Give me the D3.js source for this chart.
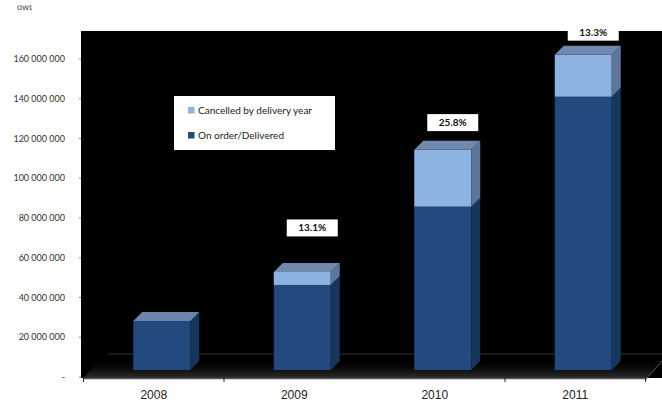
<!DOCTYPE html>
<html><head><meta charset="utf-8">
<script src="https://cdn.jsdelivr.net/npm/d3@7"></script>
<style>body{margin:0;background:#fff}svg{display:block}</style>
</head><body>
<script>
const years = ["2008","2009","2010","2011"];
const onOrder = [24.7e6, 42.8e6, 82.2e6, 137.5e6];
const cancelled = [0, 6.5e6, 28.6e6, 21.1e6];
const pctLabels = [null, "13.1%", "25.8%", "13.3%"];
const labelLevel = [null, 75e6, 128e6, 173.5e6];
const yTicks = [0,20e6,40e6,60e6,80e6,100e6,120e6,140e6,160e6];
const seriesNames = ["Cancelled by delivery year","On order/Delivered"];

const W=662,H=405;
const svg=d3.select("body").append("svg").attr("width",W).attr("height",H);
const y=d3.scaleLinear().domain([0,160e6]).range([377,59]);
const x=d3.scaleBand().domain(years).range([83.5,645.5]);
const lift=7, dx=9, dy=9, bw=57;

// plot background
svg.append("rect").attr("x",81).attr("y",31).attr("width",W-81).attr("height",347).attr("fill","#000");
const defs=svg.append("defs");
const g=defs.append("linearGradient").attr("id","floor").attr("x1",0).attr("y1",0).attr("x2",0).attr("y2",1);
g.append("stop").attr("offset",0).attr("stop-color","#000");
g.append("stop").attr("offset",0.4).attr("stop-color","#0a0a0a");
g.append("stop").attr("offset",1).attr("stop-color","#2c2c2c");
svg.append("path").attr("d","M83,378L647,378L662,362L98,362Z").attr("fill","url(#floor)");
svg.append("line").attr("x1",647).attr("y1",378).attr("x2",662).attr("y2",361).attr("stroke","#555").attr("stroke-width",1);
svg.append("line").attr("x1",108).attr("x2",662).attr("y1",354).attr("y2",354).attr("stroke","#181818").attr("stroke-width",2);

// y axis labels
const ya=svg.append("g");
yTicks.forEach(t=>{
  ya.append("text").attr("x",65).attr("y",y(t)+3).attr("text-anchor","end")
    .attr("font-family","Lato, 'Open Sans', sans-serif").attr("font-size",9).attr("fill","#333")
    .text(t===0?"-":d3.format(",")(t).replace(/,/g," "));
  ya.append("line").attr("x1",79).attr("x2",81).attr("y1",y(t)).attr("y2",y(t)).attr("stroke","#888");
});
// dwt (cut at top)
defs.append("clipPath").attr("id","cut").append("rect").attr("x",0).attr("y",5.5).attr("width",60).attr("height",20);
svg.append("text").attr("clip-path","url(#cut)").attr("x",17).attr("y",10).attr("font-family","Lato, sans-serif")
  .attr("font-size",9).attr("fill","#404040").text("dwt");

// x axis
svg.append("line").attr("x1",83).attr("x2",647).attr("y1",378.5).attr("y2",378.5).attr("stroke","#555").attr("stroke-width",1.5);
[83.5,224,505,645.5].forEach(t=>svg.append("line").attr("x1",t).attr("x2",t).attr("y1",378).attr("y2",382).attr("stroke","#222"));
years.forEach(yr=>svg.append("text").attr("x",x(yr)+x.bandwidth()/2).attr("y",399).attr("text-anchor","middle")
  .attr("font-family","'Liberation Sans', Arial, sans-serif").attr("font-size",12).attr("fill","#222").text(yr));

// bars
const col={dark:{front:"#224a7e",side:"#17365d",top:"#6a86ab"},light:{front:"#8db3e2",side:"#5d7699",top:"#6f8aae"}};
const bars=svg.append("g");
years.forEach((yr,i)=>{
  const x0=x(yr)+x.bandwidth()/2-20.5;
  const segs=[{a:0,b:onOrder[i],c:col.dark},{a:onOrder[i],b:onOrder[i]+cancelled[i],c:col.light}].filter(s=>s.b>s.a);
  segs.forEach((s,k)=>{
    const yb=y(s.a)-lift, yt=y(s.b)-lift;
    bars.append("rect").attr("x",x0).attr("y",yt).attr("width",bw).attr("height",yb-yt).attr("fill",s.c.front);
    bars.append("path").attr("d",`M${x0+bw},${yb}L${x0+bw+dx},${yb-dy}L${x0+bw+dx},${yt-dy}L${x0+bw},${yt}Z`).attr("fill",s.c.side);
    if(k===segs.length-1){
      bars.append("path").attr("d",`M${x0},${yt}L${x0+dx},${yt-dy}L${x0+bw+dx},${yt-dy}L${x0+bw},${yt}Z`).attr("fill",s.c.top);
    }
  });
  if(pctLabels[i]){
    const cx=x0+bw/2+10, cy=y(labelLevel[i]);
    svg.append("rect").attr("x",cx-25.5).attr("y",cy-8.5).attr("width",51).attr("height",17).attr("fill","#fff");
    svg.append("text").attr("x",cx).attr("y",cy+3.5).attr("text-anchor","middle").attr("font-family","Lato, sans-serif")
      .attr("font-weight","bold").attr("font-size",10).attr("fill","#111").text(pctLabels[i]);
  }
});

// legend
const lg=svg.append("g");
lg.append("rect").attr("x",174).attr("y",96).attr("width",161).attr("height",54).attr("fill","#fff");
[col.light.front,col.dark.front].forEach((c,i)=>{
  lg.append("rect").attr("x",188).attr("y",107+i*25).attr("width",6.5).attr("height",6.5).attr("fill",c);
  lg.append("text").attr("x",198).attr("y",113.5+i*25).attr("font-family","Lato, sans-serif").attr("font-size",10)
    .attr("fill","#222").text(seriesNames[i]);
});
</script>
</body></html>
